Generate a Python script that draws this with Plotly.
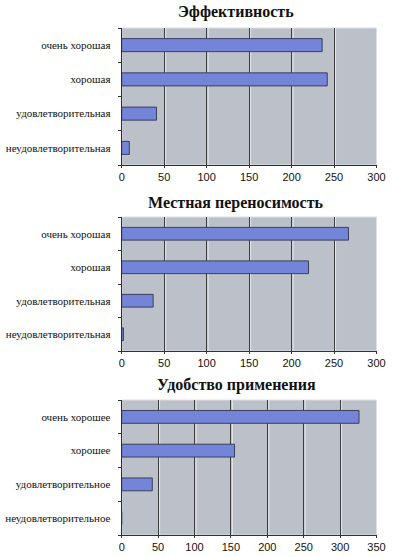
import plotly.graph_objects as go

W, H = 393, 557

titles = ["Эффективность", "Местная переносимость", "Удобство применения"]
cats1 = ["очень хорошая", "хорошая", "удовлетворительная", "неудовлетворительная"]
vals1 = [236, 242, 41, 9]
cats2 = ["очень хорошая", "хорошая", "удовлетворительная", "неудовлетворительная"]
vals2 = [267, 220, 37, 2]
cats3 = ["очень хорошее", "хорошее", "удовлетворительное", "неудовлетворительное"]
vals3 = [326, 155, 42, 0]
xmax = [300, 300, 350]

SERIF = "'Liberation Serif', 'Times New Roman', 'DejaVu Serif', serif"
SANS = "'Liberation Sans', Arial, sans-serif"

# pixel layout (top, bottom) of each plot area
boxes = [(28, 165), (217, 351), (400, 535)]
x0, x1 = 121.7, 376.5
title_y = [12, 203, 385]

fig = go.Figure()
series = [(cats1, vals1), (cats2, vals2), (cats3, vals3)]
for i, (c, v) in enumerate(series):
    n = "" if i == 0 else str(i + 1)
    top, bot = boxes[i]
    fig.add_shape(type="rect", xref="paper", yref="paper",
                  x0=x0 / W, x1=x1 / W, y0=1 - bot / H, y1=1 - top / H,
                  line=dict(color="#dcdfe4", width=1), layer="below",
                  fillcolor="#bcc1c9")
    # light highlight beside each grid line (3D look)
    for g in range(50, xmax[i], 50):
        fig.add_shape(type="line", xref="x" + n, yref="y" + n + " domain",
                      xsizemode="pixel", xanchor=g, x0=1.5, x1=1.5, y0=0, y1=1,
                      line=dict(color="#e4e6ea", width=1), layer="below")
    fig.add_trace(go.Bar(
        y=c, x=v, orientation="h",
        xaxis="x" + n, yaxis="y" + n,
        marker=dict(color="#7484d8", line=dict(color="#3a3f5a", width=1)),
        width=0.38, showlegend=False,
    ))
    fig.layout["xaxis" + n] = dict(
        domain=[x0 / W, x1 / W], anchor="y" + n,
        range=[0, xmax[i]], dtick=50, showgrid=True,
        gridcolor="#3c3c3c", gridwidth=1,
        showline=True, linecolor="#303030", linewidth=1,
        ticks="outside", ticklen=2, tickcolor="#303030",
        tickfont=dict(family=SANS, size=11, color="#111"),
        zeroline=False, fixedrange=True, automargin=False,
    )
    fig.layout["yaxis" + n] = dict(
        domain=[1 - bot / H, 1 - top / H], anchor="x" + n,
        categoryorder="array", categoryarray=c[::-1],
        showline=True, linecolor="#303030", linewidth=1,
        ticks="outside", ticklen=3, tickcolor="#303030", tickson="boundaries",
        ticklabelstandoff=8,
        tickfont=dict(family=SERIF, size=11, color="#111"),
        showgrid=False, fixedrange=True, automargin=False,
    )
    fig.add_annotation(
        text="<b>" + titles[i] + "</b>", xref="paper", yref="paper",
        x=236 / W, y=1 - title_y[i] / H, showarrow=False,
        font=dict(family=SERIF, size=16, color="#111"),
        xanchor="center", yanchor="middle",
    )

fig.update_layout(
    width=W, height=H, margin=dict(l=0, r=0, t=0, b=0),
    paper_bgcolor="white", plot_bgcolor="rgba(0,0,0,0)",
    bargap=0.62,
)
fig.write_html(
    "out.html",
    config={"displayModeBar": False},
    post_script="document.body.style.margin='0';document.body.style.overflow='hidden';",
)
